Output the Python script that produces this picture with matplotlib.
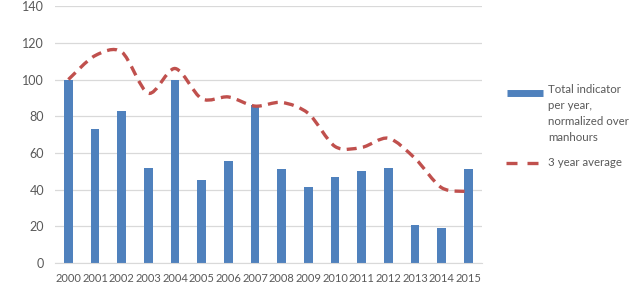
import numpy as np
import matplotlib.pyplot as plt
from matplotlib.path import Path
from matplotlib.patches import PathPatch
from matplotlib.lines import Line2D

years = [str(y) for y in range(2000, 2016)]
indicator = [100, 73, 83, 52, 100, 45, 55.5, 86, 51.5, 41.5, 47, 50, 52, 20.5, 19, 51]
avg3 = [100, 113, 115, 92.5, 106, 89.5, 90.5, 85.5, 87.5, 81.5, 63.5, 63, 68, 57, 41, 39]

BAR_COLOR = "#4F81BD"
LINE_COLOR = "#C0504D"
TEXT_COLOR = "#595959"
DASH = (0, (3, 1.9))

plt.rcParams["font.family"] = ["Lato", "DejaVu Sans"]


def smooth_path(x, y, t=0.15):
    # Excel-like smoothed line: cubic bezier through every point
    x = np.asarray(x, float)
    y = np.asarray(y, float)
    verts = [(x[0], y[0])]
    codes = [Path.MOVETO]
    n = len(x)
    for i in range(n - 1):
        p0 = np.array([x[max(i - 1, 0)], y[max(i - 1, 0)]])
        p1 = np.array([x[i], y[i]])
        p2 = np.array([x[i + 1], y[i + 1]])
        p3 = np.array([x[min(i + 2, n - 1)], y[min(i + 2, n - 1)]])
        c1 = p1 + (p2 - p0) * t
        c2 = p2 - (p3 - p1) * t
        verts += [tuple(c1), tuple(c2), tuple(p2)]
        codes += [Path.CURVE4] * 3
    return Path(verts, codes)


W, H = 633, 290
fig = plt.figure(figsize=(W / 100, H / 100), dpi=100)
ax = fig.add_axes([0.087, 0.093, 0.674, 0.886])

xs = np.arange(len(years))
ax.bar(xs, indicator, width=0.32, color=BAR_COLOR, zorder=2)
ax.add_patch(PathPatch(smooth_path(xs, avg3), fill=False, edgecolor=LINE_COLOR,
                       lw=2.4, linestyle=DASH, zorder=3))

ax.set_xlim(-0.5, len(years) - 0.5)
ax.set_ylim(0, 140)
ax.set_yticks(range(0, 141, 20))
ax.set_xticks(xs)
ax.set_xticklabels(years)
ax.tick_params(axis="both", length=0, colors=TEXT_COLOR, labelsize=8)
ax.tick_params(axis="y", pad=8, labelsize=9)
ax.tick_params(axis="x", pad=7)
ax.grid(axis="y", color="#D9D9D9", lw=0.9, zorder=0)
for side in ["left", "right", "top"]:
    ax.spines[side].set_visible(False)
ax.spines["bottom"].set_color("#D9D9D9")

# legend, laid out by hand like the Excel one
fig.add_artist(Line2D([507 / W, 543 / W], [1 - 93 / H] * 2, color=BAR_COLOR,
                      lw=5, solid_capstyle="butt"))
fig.add_artist(Line2D([506 / W, 539 / W], [1 - 163 / H] * 2, color=LINE_COLOR,
                      lw=2.4, linestyle=(0, (3.3, 3.0))))
fig.text(548 / W, 1 - 84 / H, "Total indicator\nper year,\nnormalized over\nmanhours",
         ha="left", va="top", fontsize=8.3, color=TEXT_COLOR, linespacing=1.55)
fig.text(548 / W, 1 - 163 / H, "3 year average", ha="left", va="center",
         fontsize=8.3, color=TEXT_COLOR)

fig.savefig("out.png", dpi=100)
